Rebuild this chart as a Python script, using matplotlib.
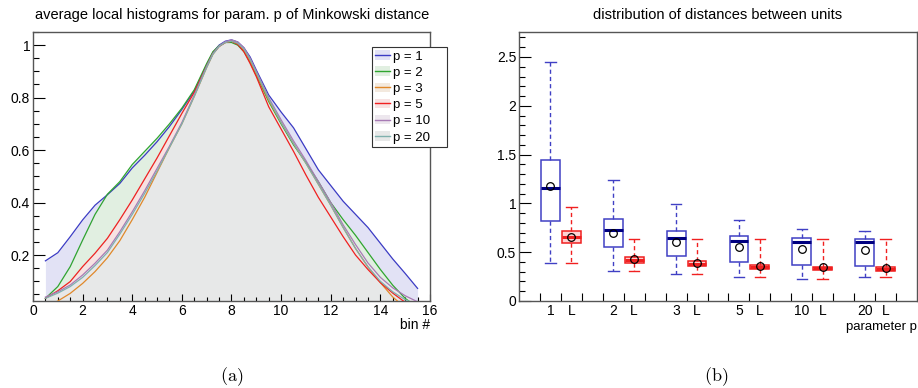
import matplotlib
matplotlib.use('Agg')
import matplotlib.pyplot as plt
from matplotlib.lines import Line2D
from matplotlib.patches import Patch
from matplotlib.ticker import MultipleLocator

plt.rcParams['font.family'] = ['Liberation Sans', 'DejaVu Sans']
plt.rcParams['mathtext.fontset'] = 'cm'

# ---------------- data: left panel (average local histograms) ----------------
bin_x = [0.5, 1.0, 1.5, 2.0, 2.5, 3.0, 3.5, 4.0, 4.5, 5.0, 5.5, 6.0, 6.5,
         7.0, 7.25, 7.5, 7.75, 8.0, 8.25, 8.5, 8.75, 9.0,
         9.5, 10.0, 10.5, 11.0, 11.5, 12.0, 12.5, 13.0, 13.5, 14.0, 14.5, 15.0, 15.5]
hist_p1 = [0.178, 0.209, 0.27, 0.334, 0.39, 0.43, 0.473, 0.532, 0.58, 0.632, 0.69, 0.755, 0.825,
           0.925, 0.972, 1.0, 1.015, 1.02, 1.012, 0.99, 0.955, 0.905,
           0.81, 0.745, 0.685, 0.605, 0.525, 0.465, 0.405, 0.355, 0.305, 0.245, 0.185, 0.13, 0.073]
hist_p2 = [0.035, 0.08, 0.156, 0.257, 0.355, 0.432, 0.48, 0.545, 0.595, 0.645, 0.70, 0.76, 0.83,
           0.93, 0.975, 0.998, 1.01, 1.01, 1.0, 0.975, 0.935, 0.885,
           0.785, 0.70, 0.62, 0.553, 0.48, 0.40, 0.335, 0.275, 0.21, 0.145, 0.085, 0.035, 0.0]
hist_p3 = [0.0, 0.025, 0.054, 0.092, 0.137, 0.19, 0.255, 0.335, 0.42, 0.515, 0.61, 0.70, 0.805,
           0.915, 0.965, 0.995, 1.01, 1.015, 1.005, 0.98, 0.94, 0.89,
           0.79, 0.705, 0.625, 0.55, 0.47, 0.39, 0.305, 0.225, 0.155, 0.095, 0.04, 0.0, 0.0]
hist_p5 = [0.035, 0.064, 0.099, 0.156, 0.207, 0.264, 0.335, 0.41, 0.49, 0.57, 0.655, 0.74, 0.82,
           0.92, 0.968, 0.995, 1.01, 1.015, 1.003, 0.975, 0.93, 0.88,
           0.765, 0.68, 0.595, 0.505, 0.42, 0.345, 0.27, 0.20, 0.145, 0.095, 0.055, 0.02, 0.0]
hist_p10 = [0.04, 0.06, 0.086, 0.124, 0.169, 0.219, 0.289, 0.365, 0.445, 0.53, 0.615, 0.705, 0.81,
            0.92, 0.968, 0.997, 1.013, 1.02, 1.012, 0.99, 0.95, 0.90,
            0.80, 0.715, 0.635, 0.56, 0.48, 0.40, 0.315, 0.24, 0.17, 0.115, 0.075, 0.045, 0.022]
hist_p20 = [0.035, 0.055, 0.08, 0.115, 0.16, 0.21, 0.28, 0.355, 0.435, 0.52, 0.61, 0.70, 0.805,
            0.915, 0.965, 0.995, 1.01, 1.015, 1.007, 0.985, 0.945, 0.895,
            0.795, 0.705, 0.625, 0.55, 0.47, 0.39, 0.305, 0.225, 0.155, 0.10, 0.06, 0.03, 0.01]
hist_series = [hist_p1, hist_p2, hist_p3, hist_p5, hist_p10, hist_p20]
hist_labels = ['p = 1', 'p = 2', 'p = 3', 'p = 5', 'p = 10', 'p = 20']
line_colors = ['#3b3bc4', '#2fa52f', '#e0882a', '#f02020', '#a77bb5', '#7fb0ad']
fill_colors = ['#e2e2f5', '#e1efe1', '#f3e9de', '#f7e2e2', '#ede7ee', '#e7e8e8']

# ---------------- data: right panel (distribution of distances) ----------------
p_params = ['1', '2', '3', '5', '10', '20']
p_whislo = [0.386, 0.304, 0.273, 0.246, 0.222, 0.246]
p_q1 = [0.823, 0.550, 0.458, 0.396, 0.372, 0.362]
p_med = [1.161, 0.724, 0.645, 0.615, 0.608, 0.605]
p_mean = [1.178, 0.697, 0.608, 0.553, 0.529, 0.519]
p_q3 = [1.441, 0.837, 0.714, 0.663, 0.649, 0.639]
p_whishi = [2.452, 1.236, 0.990, 0.826, 0.741, 0.714]

L_whislo = [0.386, 0.304, 0.273, 0.246, 0.222, 0.246]
L_q1 = [0.591, 0.393, 0.355, 0.331, 0.314, 0.307]
L_med = [0.652, 0.420, 0.379, 0.348, 0.335, 0.331]
L_mean = [0.652, 0.427, 0.386, 0.362, 0.345, 0.342]
L_q3 = [0.714, 0.447, 0.406, 0.372, 0.352, 0.352]
L_whishi = [0.963, 0.632, 0.632, 0.632, 0.632, 0.632]

W, H = 918, 388
fig = plt.figure(figsize=(W / 100, H / 100), dpi=100)

def axrect(x0, y0, x1, y1):
    return [x0 / W, 1 - y1 / H, (x1 - x0) / W, (y1 - y0) / H]

frame_col = '#555555'

# ---------------- left panel ----------------
ax1 = fig.add_axes(axrect(33, 32, 430, 301))
for ys, fc in zip(hist_series, fill_colors):
    ax1.fill_between(bin_x, 0, ys, color=fc, lw=0, zorder=1)
for ys, lc in zip(hist_series, line_colors):
    ax1.plot(bin_x, ys, color=lc, lw=0.9, zorder=3)
ax1.set_xlim(0, 16)
ax1.set_ylim(0.025, 1.05)
ax1.xaxis.set_minor_locator(MultipleLocator(0.5))
ax1.yaxis.set_minor_locator(MultipleLocator(0.05))
ax1.set_yticks([0.2, 0.4, 0.6, 0.8, 1.0])
ax1.set_yticklabels(['0.2', '0.4', '0.6', '0.8', '1'])
ax1.set_xticks(range(0, 17, 2))
ax1.set_xticklabels([str(v) for v in range(0, 17, 2)])
ax1.tick_params(axis='x', which='major', direction='in', length=5, width=0.8, pad=2, labelsize=10)
ax1.tick_params(axis='x', which='minor', direction='in', length=2.8, width=0.8)
ax1.tick_params(axis='y', which='major', direction='in', length=8.5, width=0.8, pad=2, labelsize=10)
ax1.tick_params(axis='y', which='minor', direction='in', length=4.3, width=0.8)
for s in ax1.spines.values():
    s.set_color(frame_col)
    s.set_linewidth(1.0)

handles = [(Patch(facecolor=fc, edgecolor='none'), Line2D([], [], color=lc, lw=1.0))
           for fc, lc in zip(fill_colors, line_colors)]
leg = fig.legend(handles, hist_labels, loc='upper left',
                 bbox_to_anchor=(372 / W, 1 - 141 / H, 75 / W, 94 / H),
                 bbox_transform=fig.transFigure, mode='expand',
                 fontsize=9.5, frameon=True, fancybox=False, framealpha=1,
                 edgecolor='#333333', borderpad=0.25, labelspacing=0.3,
                 handlelength=1.1, handletextpad=0.25, borderaxespad=0)
leg.get_frame().set_linewidth(0.8)

fig.text(232 / W, 1 - 15 / H, 'average local histograms for param. p of Minkowski distance',
         ha='center', va='center', fontsize=10.5)
fig.text(430 / W, 1 - 325 / H, 'bin #', ha='right', va='center', fontsize=10)

# ---------------- right panel ----------------
ax2 = fig.add_axes(axrect(519, 32, 917, 301))
p_pos = [1.5, 4.5, 7.5, 10.5, 13.5, 16.5]
L_pos = [2.5, 5.5, 8.5, 11.5, 14.5, 17.5]

def make_stats(lo, q1, med, mean, q3, hi, names):
    return [dict(whislo=a, q1=b, med=c, mean=d, q3=e, whishi=f, fliers=[], label=n)
            for a, b, c, d, e, f, n in zip(lo, q1, med, mean, q3, hi, names)]

p_stats = make_stats(p_whislo, p_q1, p_med, p_mean, p_q3, p_whishi, p_params)
L_stats = make_stats(L_whislo, L_q1, L_med, L_mean, L_q3, L_whishi, ['L'] * 6)

blue = '#4040c4'
red = '#f02020'
mean_props = dict(marker='o', markerfacecolor='none', markeredgecolor='black',
                  markersize=5.5, markeredgewidth=0.9)
ax2.bxp(p_stats, positions=p_pos, widths=0.9, capwidths=0.5, showmeans=True,
        showfliers=False, patch_artist=True, manage_ticks=False,
        boxprops=dict(facecolor='white', edgecolor=blue, linewidth=1.1),
        medianprops=dict(color='#000080', linewidth=2.2),
        whiskerprops=dict(color=blue, linewidth=1.0, linestyle=(0, (3, 2.2))),
        capprops=dict(color=blue, linewidth=1.0),
        meanprops=mean_props)
ax2.bxp(L_stats, positions=L_pos, widths=0.9, capwidths=0.5, showmeans=True,
        showfliers=False, patch_artist=True, manage_ticks=False,
        boxprops=dict(facecolor='#ffd2d2', edgecolor=red, linewidth=1.1),
        medianprops=dict(color=red, linewidth=2.2),
        whiskerprops=dict(color=red, linewidth=1.0, linestyle=(0, (3, 2.2))),
        capprops=dict(color=red, linewidth=1.0),
        meanprops=mean_props)

ax2.set_xlim(0, 19)
ax2.set_ylim(0, 2.756)
ax2.set_xticks(range(1, 19))
ax2.set_xticklabels([])
centers = sorted(p_pos + L_pos)
center_labels = []
for pv in p_params:
    center_labels += [pv, 'L']
ax2.set_xticks(centers, center_labels, minor=True)
ax2.tick_params(axis='x', which='major', direction='in', length=5.5, width=0.8)
ax2.tick_params(axis='x', which='minor', length=0, pad=2.5, labelsize=10)
ax2.yaxis.set_minor_locator(MultipleLocator(0.1))
ax2.set_yticks([0, 0.5, 1, 1.5, 2, 2.5])
ax2.set_yticklabels(['0', '0.5', '1', '1.5', '2', '2.5'])
ax2.tick_params(axis='y', which='major', direction='in', length=8.5, width=0.8, pad=2, labelsize=10)
ax2.tick_params(axis='y', which='minor', direction='in', length=4.3, width=0.8)
for s in ax2.spines.values():
    s.set_color(frame_col)
    s.set_linewidth(1.0)

fig.text(718 / W, 1 - 15 / H, 'distribution of distances between units',
         ha='center', va='center', fontsize=10.5)
fig.text(917 / W, 1 - 327 / H, 'parameter p', ha='right', va='center', fontsize=9.5)

fig.text(232 / W, 1 - 377 / H, r'$\mathrm{(a)}$', ha='center', va='center', fontsize=13)
fig.text(716 / W, 1 - 377 / H, r'$\mathrm{(b)}$', ha='center', va='center', fontsize=13)

fig.savefig('out.png', dpi=100, facecolor='white')
